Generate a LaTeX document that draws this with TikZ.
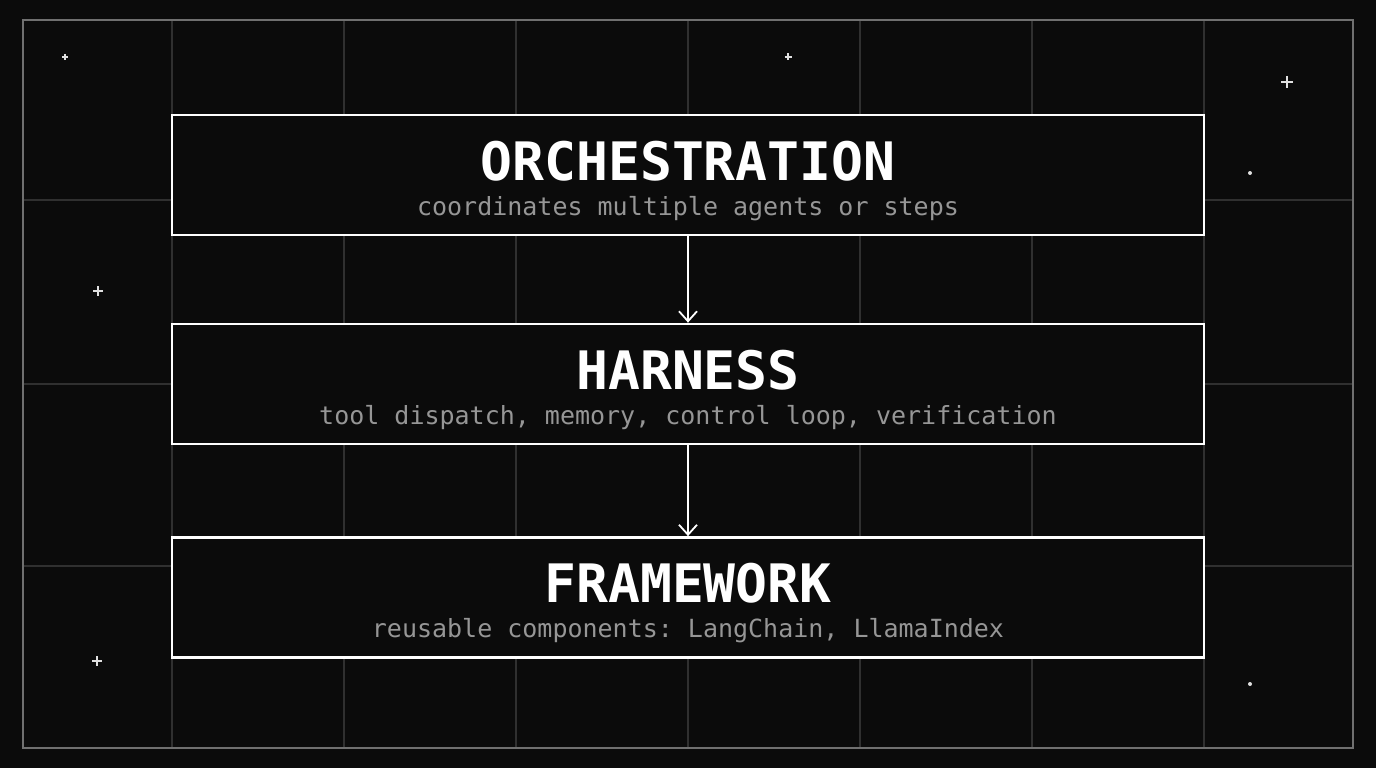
\documentclass[tikz,border=0pt]{standalone}
\usepackage{fontspec}
\setmonofont{DejaVu Sans Mono}
\usepackage{tikz}
\usetikzlibrary{arrows.meta, positioning}
\definecolor{bgcol}{HTML}{0B0B0B}
\definecolor{gridcol}{HTML}{303030}
\definecolor{framecol}{HTML}{707070}
\definecolor{subcol}{HTML}{969696}
\definecolor{starcol}{HTML}{E0E0E0}
\tikzset{
  layerbox/.style={draw=white, line width=2.8pt, fill=bgcol, minimum width=1032pt, minimum height=120pt, inner sep=0pt},
  layertitle/.style={text=white, font=\ttfamily\bfseries\fontsize{53}{53}\selectfont, inner sep=0pt},
  layersub/.style={text=subcol, font=\ttfamily\fontsize{25}{25}\selectfont, inner sep=0pt},
  layerarrow/.style={draw=white, line width=1.8pt, -{Straight Barb[length=10pt,width=18pt,line width=1.8pt]}},
  gridline/.style={draw=gridcol, line width=1.2pt}
}
\newcommand{\sparkle}[3]{%
  \draw[starcol, line width=1.2pt] (#1-#3,#2) -- (#1+#3,#2) (#1,#2-#3) -- (#1,#2+#3);}
\begin{document}
\begin{tikzpicture}[x=1pt, y=-1pt]
\useasboundingbox (0,0) rectangle (1376,768);
\fill[bgcol] (0,0) rectangle (1376,768);

% grid
\foreach \gx in {172,344,516,688,860,1032,1204}
  \draw[gridline] (\gx,20) -- (\gx,748);
\foreach \gy in {200,384,566}
  \draw[gridline] (23,\gy) -- (1353,\gy);
\draw[framecol, line width=2pt] (23,20) rectangle (1353,748);

% sparkles
\sparkle{65}{57}{3}
\sparkle{788}{57}{3.5}
\sparkle{1287}{82}{6}
\sparkle{98}{291}{5}
\sparkle{97}{661}{5}
\fill[starcol] (1250,173) circle (2pt);
\fill[starcol] (1250,684) circle (2pt);

% layers
\node[layerbox] (orch) at (688,175) {};
\node[layerbox] (harn) at (688,384) {};
\node[layerbox] (frame) at (688,597.5) {};

\node[layertitle] (orchT) at (688,161) {ORCHESTRATION};
\node[layersub] (orchS) at (688,209) {coordinates multiple agents or steps};
\node[layertitle] (harnT) at (688,370) {HARNESS};
\node[layersub] (harnS) at (688,418) {tool dispatch, memory, control loop, verification};
\node[layertitle] (frameT) at (688,583) {FRAMEWORK};
\node[layersub] (frameS) at (688,631) {reusable components: LangChain, LlamaIndex};

% arrows
\draw[layerarrow] (orch.south) -- (harn.north);
\draw[layerarrow] (harn.south) -- (frame.north);

\end{tikzpicture}
\end{document}
